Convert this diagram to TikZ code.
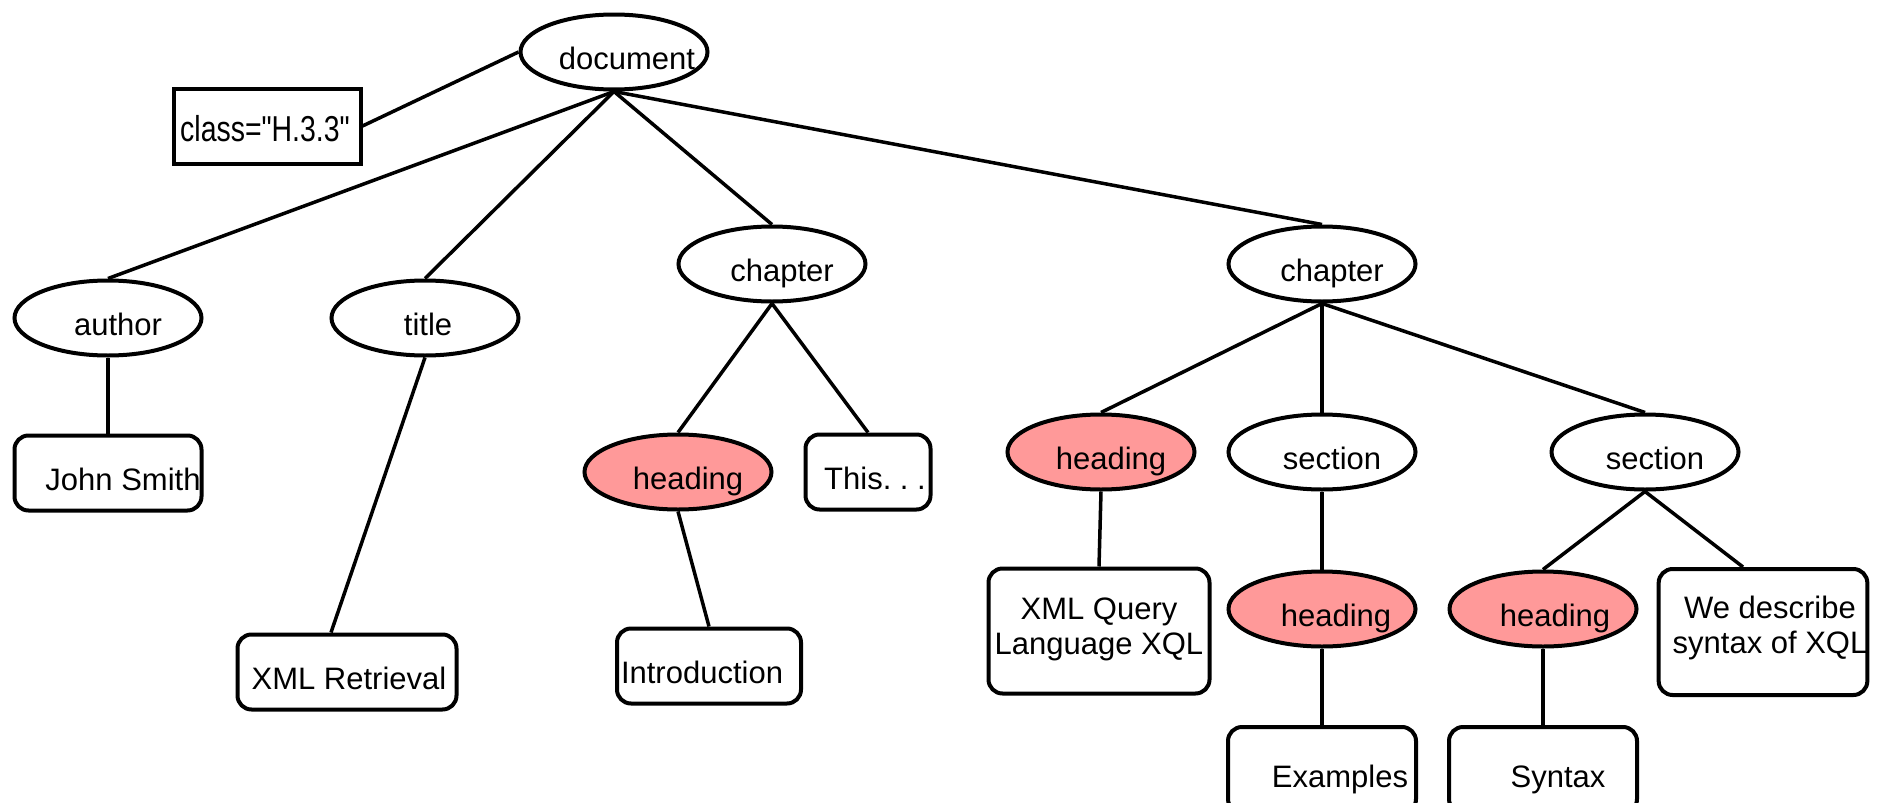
\documentclass[tikz,border=0pt]{standalone}
\usepackage{fontspec}
\setmainfont{Liberation Sans}[Ligatures=TeXOff]
\usepackage{tikz}
\usetikzlibrary{shapes.geometric}

\definecolor{headpink}{RGB}{255,153,153}
\newcommand{\nodetext}[2][20pt]{\makebox[0pt]{\hspace*{#1}#2}}

\begin{document}
\begin{tikzpicture}[x=1pt, y=-1pt, remember picture,
    tag/.style={ellipse, draw, line width=4pt, minimum width=187pt, minimum height=75pt,
        inner sep=0pt, text height=34pt, text depth=0pt, font=\fontsize{31}{35}\selectfont},
    headtag/.style={tag, fill=headpink},
    leaf/.style={draw, rounded corners=14pt, line width=4pt, inner sep=0pt,
        minimum height=75pt, align=center, font=\fontsize{31}{35}\selectfont},
    word/.style={leaf, text height=34pt, text depth=0pt},
    link/.style={line width=3.5pt}]
    \useasboundingbox (0,0) rectangle (1882,803);

    % elements
    \node[tag] (document) at (614,52) {\nodetext[26pt]{document}};
    \node[word, rounded corners=0pt, minimum width=187pt, text height=30pt,
        font=\fontsize{36}{40}\selectfont] (class) at (267,126)
        {\nodetext[-4pt]{\scalebox{0.79}[1]{class="H.3.3"}}};
    \node[tag] (author) at (108,318) {\nodetext{author}};
    \node[tag] (title) at (425,318) {\nodetext[6pt]{title}};
    \node[tag] (chapterA) at (772,264) {\nodetext{chapter}};
    \node[tag] (chapterB) at (1322,264) {\nodetext{chapter}};
    \node[headtag] (headingA) at (678,472) {\nodetext{heading}};
    \node[headtag] (headingB) at (1101,452) {\nodetext{heading}};
    \node[tag] (sectionA) at (1322,452) {\nodetext{section}};
    \node[tag] (sectionB) at (1645,452) {\nodetext{section}};
    \node[headtag] (headingC) at (1322,609) {\nodetext[28pt]{heading}};
    \node[headtag] (headingD) at (1543,609) {\nodetext[24pt]{heading}};

    % text leaves
    \node[word, minimum width=187pt] (smith) at (108,473) {\nodetext[30pt]{John Smith}};
    \node[word, minimum width=219pt] (retrieval) at (347,672) {\nodetext[4pt]{XML Retrieval}};
    \node[word, minimum width=184pt] (intro) at (709,666) {\nodetext[-14pt]{Introduction}};
    \node[word, minimum width=125pt] (this) at (868,472) {\nodetext[14pt]{This.~.~.}};
    \node[leaf, minimum width=221pt, minimum height=125pt] (query) at (1099,631)
        {\mbox{}\\[-16pt]XML Query\\Language XQL};
    \node[leaf, minimum width=206pt, minimum height=126pt] (describe) at (1763,632)
        {\mbox{}\\[-20pt]\hspace*{14pt}We describe\\\hspace*{14pt}syntax of XQL};
    \node[word, minimum width=188pt, minimum height=86pt] (examples) at (1322,770)
        {\nodetext[36pt]{Examples}};
    \node[word, minimum width=188pt, minimum height=86pt] (syntax) at (1543,770)
        {\nodetext[30pt]{Syntax}};

    % tree
    \draw[link] (class.east) -- (document.west);
    \draw[link] (document.south) -- (author.north);
    \draw[link] (document.south) -- (title.north);
    \draw[link] (document.south) -- (chapterA.north);
    \draw[link] (document.south) -- (chapterB.north);
    \draw[link] (author.south) -- (smith.north);
    \draw[link] (title.south) -- ([xshift=-16pt]retrieval.north);
    \draw[link] (chapterA.south) -- (headingA.north);
    \draw[link] (chapterA.south) -- (this.north);
    \draw[link] (headingA.south) -- (intro.north);
    \draw[link] (chapterB.south) -- (headingB.north);
    \draw[link] (chapterB.south) -- (sectionA.north);
    \draw[link] (chapterB.south) -- (sectionB.north);
    \draw[link] (headingB.south) -- (query.north);
    \draw[link] (sectionA.south) -- (headingC.north);
    \draw[link] (sectionB.south) -- (headingD.north);
    \draw[link] (sectionB.south) -- ([xshift=-20pt]describe.north);
    \draw[link] (headingC.south) -- (examples.north);
    \draw[link] (headingD.south) -- (syntax.north);
\end{tikzpicture}
\end{document}
